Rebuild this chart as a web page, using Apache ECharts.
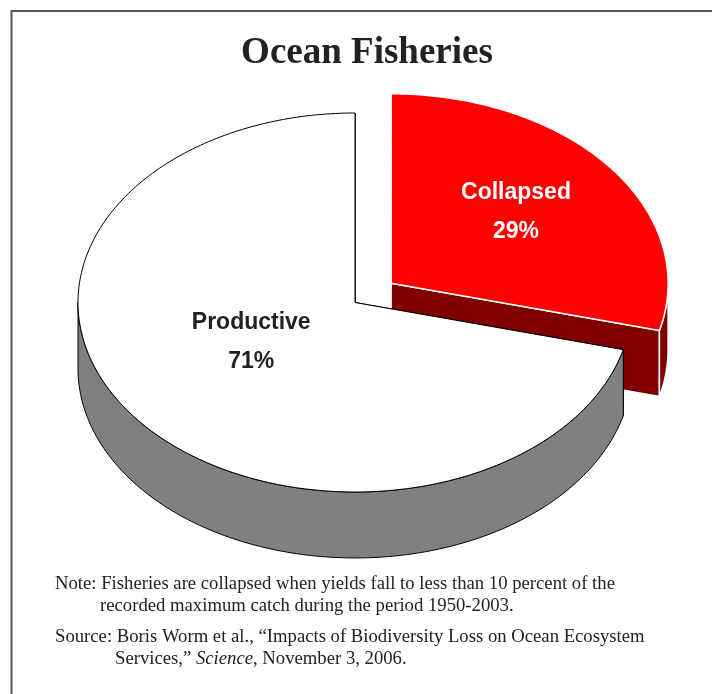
<!DOCTYPE html>
<html><head><meta charset="utf-8">
<script src="https://cdn.jsdelivr.net/npm/echarts@6/dist/echarts.min.js"></script>
<style>html,body{margin:0;padding:0;background:#fff}#c{width:712px;height:694px}</style>
</head><body><div id="c"></div>
<script>
// ---- data ----
const titleText = 'Ocean Fisheries';
const categories = ['Collapsed', 'Productive'];
const values = [29, 71];
const noteLines = [
  'Note: Fisheries are collapsed when yields fall to less than 10 percent of the',
  'recorded maximum catch during the period 1950-2003.'
];
const sourceLines = [
  'Source: Boris Worm et al., \u201cImpacts of Biodiversity Loss on Ocean Ecosystem',
  'Services,\u201d {i|Science}, November 3, 2006.'
];

// ---- styles ----
const topColors = ['#FF0000', '#FFFFFF'];
const sideColors = ['#800000', '#808080'];
const edgeColors = ['#FFFFFF', '#000000'];
const edgeWidths = [1.5, 1];
const labelColors = ['#FFFFFF', '#222222'];
const explode = [0.165, 0];
const depth = 0.348;
const labelR = [0.586, 0.430];
const labelShift = [-1.9, 8.4];
const noteFont = '18.7px "Liberation Serif", "Times New Roman", serif';

const total = values.reduce((a, b) => a + b, 0);
let cum = 0;
const seriesData = categories.map((c, i) => {
  const d = { name: c, value: [cum, values[i], i] };
  cum += values[i];
  return d;
});

const DEG = Math.PI / 180;

function renderItem(params, api) {
  const idx = api.value(2);
  const a1 = api.value(0) / total * 2 * Math.PI;
  const a2 = (api.value(0) + api.value(1)) / total * 2 * Math.PI;
  const mid = (a1 + a2) / 2;
  const e = explode[idx];
  const ox = e * Math.sin(mid), oy = e * Math.cos(mid);
  const P = (a, r, dz) => api.coord([ox + r * Math.sin(a), oy + r * Math.cos(a) - dz]);
  const arc = (from, to, dz) => {
    const n = Math.max(2, Math.ceil(Math.abs(to - from) / DEG));
    const pts = [];
    for (let k = 0; k <= n; k++) pts.push(P(from + (to - from) * k / n, 1, dz));
    return pts;
  };
  const stroke = edgeColors[idx], lw = edgeWidths[idx];
  const children = [];
  // radial faces
  [a1, a2].forEach(a => {
    children.push({
      type: 'polygon', z2: 1,
      shape: { points: [P(a, 0, 0), P(a, 1, 0), P(a, 1, depth), P(a, 0, depth)] },
      style: { fill: sideColors[idx], stroke: stroke, lineWidth: lw }
    });
  });
  // outer (front) side
  const s = Math.max(a1, Math.PI / 2), t = Math.min(a2, 3 * Math.PI / 2);
  if (t > s) {
    const pts = arc(s, t, 0).concat(arc(t, s, depth));
    children.push({
      type: 'polygon', z2: 2,
      shape: { points: pts },
      style: { fill: sideColors[idx], stroke: stroke, lineWidth: lw, lineJoin: 'round' }
    });
  }
  // top face
  children.push({
    type: 'polygon', z2: 3,
    shape: { points: [P(0, 0, 0)].concat(arc(a1, a2, 0)) },
    style: { fill: topColors[idx], stroke: stroke, lineWidth: lw, lineJoin: 'round' }
  });
  // label
  const la = mid + labelShift[idx] * DEG;
  const lp = P(la, labelR[idx], 0);
  children.push({
    type: 'text', z2: 4,
    x: lp[0], y: lp[1],
    style: {
      text: categories[idx] + '\n' + Math.round(api.value(1) / total * 100) + '%',
      fill: labelColors[idx],
      font: 'bold 23px "Liberation Sans", Arial, sans-serif',
      align: 'center', verticalAlign: 'middle', lineHeight: 39
    }
  });
  return { type: 'group', children: children };
}

const chart = echarts.init(document.getElementById('c'), null, { renderer: 'canvas' });
chart.setOption({
  animation: false,
  backgroundColor: '#fff',
  grid: { left: 78, right: 80, top: 113, bottom: 202 },
  xAxis: { type: 'value', min: -1, max: 1, show: false },
  yAxis: { type: 'value', min: -1, max: 1, show: false },
  series: [{
    type: 'custom',
    coordinateSystem: 'cartesian2d',
    renderItem: renderItem,
    clip: false,
    data: seriesData
  }],
  graphic: [
    { type: 'polyline', shape: { points: [[11.5, 694], [11.5, 11], [712, 11]] },
      style: { stroke: '#555', lineWidth: 2, fill: null } },
    { type: 'text', x: 367, y: 53,
      style: { text: titleText, font: 'bold 37px "Liberation Serif", "Times New Roman", serif',
        fill: '#222', align: 'center', verticalAlign: 'middle' } },
    { type: 'text', x: 55, y: 584,
      style: { text: noteLines[0], font: noteFont, fill: '#222', align: 'left', verticalAlign: 'middle' } },
    { type: 'text', x: 100, y: 606,
      style: { text: noteLines[1], font: noteFont, fill: '#222', align: 'left', verticalAlign: 'middle' } },
    { type: 'text', x: 55, y: 637,
      style: { text: sourceLines[0], font: noteFont, fill: '#222', align: 'left', verticalAlign: 'middle' } },
    { type: 'text', x: 115, y: 659,
      style: { text: sourceLines[1], font: noteFont, fill: '#222', align: 'left', verticalAlign: 'middle',
        rich: { i: { fontStyle: 'italic', fontFamily: 'Liberation Serif', fontSize: 18.7, fill: '#222' } } } }
  ]
});
</script></body></html>
